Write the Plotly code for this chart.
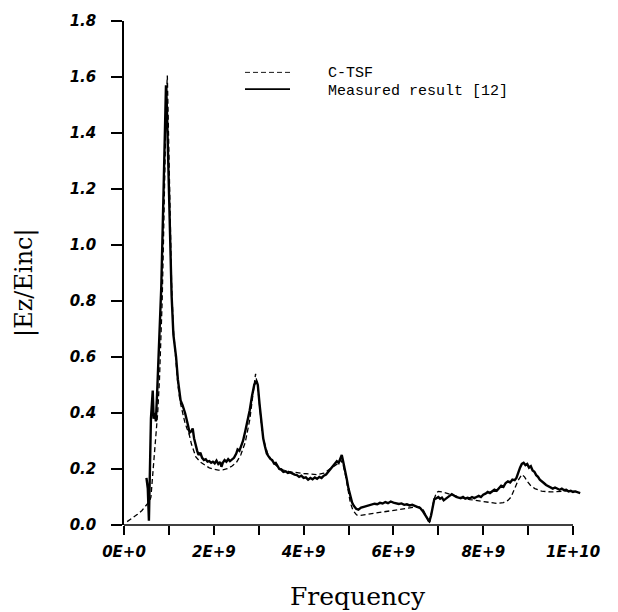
import plotly.graph_objects as go

# ---------------- data (frequency in units of 1E9 Hz) ----------------
series_names = ["C-TSF", "Measured result [12]"]

measured_f = [0.50, 0.53, 0.555, 0.575, 0.60, 0.64, 0.66, 0.69, 0.71, 0.74, 0.77, 0.80, 0.83, 0.86, 0.89,
              0.91, 0.935, 0.95, 0.97, 1.00, 1.03, 1.06, 1.10, 1.16, 1.20, 1.23, 1.26, 1.30, 1.36, 1.42,
              1.46, 1.50, 1.53, 1.56, 1.60, 1.63, 1.66, 1.70, 1.74, 1.78, 1.82, 1.86, 1.90, 1.94, 1.98,
              2.02, 2.06, 2.10, 2.14, 2.17, 2.20, 2.24, 2.28, 2.32, 2.36, 2.40, 2.45, 2.50, 2.53, 2.57,
              2.61, 2.65, 2.70, 2.75, 2.80, 2.85, 2.90, 2.95, 2.98, 3.02, 3.06, 3.10, 3.14, 3.18, 3.22,
              3.26, 3.30, 3.34, 3.38, 3.42, 3.46, 3.50, 3.55, 3.60, 3.65, 3.70, 3.75, 3.80, 3.85, 3.90,
              3.95, 4.00, 4.05, 4.10, 4.15, 4.20, 4.25, 4.30, 4.35, 4.40, 4.45, 4.50, 4.55, 4.60, 4.65,
              4.70, 4.74, 4.78, 4.82, 4.85, 4.88, 4.92, 4.96, 5.00, 5.04, 5.08, 5.12, 5.17, 5.22, 5.28,
              5.34, 5.40, 5.46, 5.52, 5.58, 5.64, 5.70, 5.76, 5.82, 5.88, 5.94, 6.00, 6.06, 6.12, 6.18,
              6.24, 6.30, 6.36, 6.42, 6.48, 6.54, 6.60, 6.66, 6.72, 6.77, 6.80, 6.84, 6.88, 6.91, 6.95,
              7.00, 7.04, 7.08, 7.12, 7.16, 7.20, 7.25, 7.30, 7.35, 7.40, 7.45, 7.50, 7.55, 7.60, 7.65,
              7.70, 7.75, 7.80, 7.85, 7.90, 7.95, 8.00, 8.05, 8.10, 8.15, 8.20, 8.25, 8.30, 8.35, 8.40,
              8.45, 8.50, 8.55, 8.60, 8.65, 8.70, 8.74, 8.78, 8.82, 8.86, 8.90, 8.94, 8.98, 9.02, 9.06,
              9.10, 9.14, 9.18, 9.22, 9.26, 9.30, 9.35, 9.40, 9.45, 9.50, 9.55, 9.60, 9.65, 9.70, 9.75,
              9.80, 9.85, 9.90, 9.95, 10.00, 10.05, 10.10, 10.16]
measured_v = [0.168, 0.13, 0.015, 0.20, 0.38, 0.48, 0.38, 0.40, 0.37, 0.48, 0.60, 0.72, 0.85, 1.05, 1.29,
              1.45, 1.57, 1.52, 1.40, 1.15, 0.95, 0.82, 0.68, 0.60, 0.52, 0.47, 0.445, 0.43, 0.40, 0.36,
              0.33, 0.335, 0.345, 0.31, 0.28, 0.265, 0.25, 0.258, 0.24, 0.232, 0.235, 0.226, 0.228, 0.222, 0.226,
              0.22, 0.23, 0.218, 0.225, 0.208, 0.222, 0.232, 0.226, 0.235, 0.228, 0.232, 0.24, 0.255, 0.27, 0.265,
              0.285, 0.30, 0.335, 0.37, 0.41, 0.46, 0.50, 0.515, 0.50, 0.43, 0.36, 0.31, 0.28, 0.255, 0.245,
              0.236, 0.232, 0.22, 0.222, 0.208, 0.20, 0.198, 0.19, 0.192, 0.186, 0.188, 0.183, 0.18, 0.178, 0.172,
              0.176, 0.168, 0.17, 0.162, 0.168, 0.163, 0.17, 0.165, 0.172, 0.168, 0.176, 0.18, 0.19, 0.20, 0.214,
              0.222, 0.228, 0.222, 0.24, 0.25, 0.228, 0.20, 0.165, 0.13, 0.10, 0.08, 0.068, 0.058, 0.055, 0.062,
              0.065, 0.068, 0.07, 0.072, 0.076, 0.074, 0.079, 0.077, 0.082, 0.078, 0.084, 0.08, 0.078, 0.075, 0.077,
              0.072, 0.074, 0.07, 0.072, 0.068, 0.064, 0.06, 0.048, 0.034, 0.022, 0.012, 0.035, 0.07, 0.092, 0.095,
              0.10, 0.094, 0.098, 0.088, 0.094, 0.10, 0.104, 0.11, 0.104, 0.10, 0.098, 0.096, 0.10, 0.094, 0.097,
              0.095, 0.10, 0.096, 0.10, 0.104, 0.10, 0.108, 0.112, 0.118, 0.114, 0.12, 0.126, 0.122, 0.132, 0.14,
              0.136, 0.15, 0.156, 0.152, 0.162, 0.16, 0.168, 0.19, 0.205, 0.218, 0.222, 0.214, 0.218, 0.205, 0.21,
              0.195, 0.19, 0.178, 0.172, 0.162, 0.155, 0.15, 0.143, 0.138, 0.136, 0.13, 0.134, 0.13, 0.126, 0.13,
              0.124, 0.126, 0.12, 0.122, 0.118, 0.12, 0.116, 0.114]

ctsf_f = [0.07, 0.20, 0.30, 0.40, 0.50, 0.57, 0.60, 0.63, 0.67, 0.71, 0.75, 0.79, 0.82, 0.85, 0.88,
          0.91, 0.94, 0.965, 0.98, 1.00, 1.03, 1.06, 1.10, 1.15, 1.20, 1.25, 1.30, 1.35, 1.40, 1.45,
          1.50, 1.55, 1.60, 1.70, 1.80, 1.90, 2.00, 2.10, 2.20, 2.30, 2.40, 2.50, 2.60, 2.70, 2.80,
          2.87, 2.93, 2.98, 3.03, 3.08, 3.14, 3.20, 3.27, 3.35, 3.45, 3.55, 3.70, 3.85, 4.00, 4.15,
          4.30, 4.45, 4.55, 4.65, 4.75, 4.83, 4.88, 4.93, 4.98, 5.04, 5.10, 5.18, 5.25, 5.40, 5.60,
          5.80, 6.00, 6.20, 6.40, 6.58, 6.66, 6.72, 6.77, 6.80, 6.85, 6.90, 6.96, 7.00, 7.10, 7.20,
          7.35, 7.50, 7.70, 7.90, 8.10, 8.30, 8.45, 8.55, 8.62, 8.70, 8.78, 8.86, 8.92, 8.98, 9.05,
          9.15, 9.30, 9.50, 9.70, 9.90, 10.05, 10.16]
ctsf_v = [0.012, 0.025, 0.038, 0.052, 0.07, 0.085, 0.10, 0.16, 0.24, 0.32, 0.40, 0.52, 0.64, 0.80, 1.02,
          1.30, 1.52, 1.605, 1.50, 1.30, 1.05, 0.86, 0.70, 0.58, 0.50, 0.44, 0.40, 0.37, 0.345, 0.325,
          0.29, 0.262, 0.243, 0.225, 0.213, 0.204, 0.199, 0.196, 0.197, 0.201, 0.21, 0.222, 0.25, 0.295, 0.375,
          0.47, 0.54, 0.49, 0.40, 0.33, 0.285, 0.255, 0.235, 0.218, 0.205, 0.196, 0.19, 0.186, 0.184, 0.182,
          0.18, 0.185, 0.195, 0.205, 0.218, 0.232, 0.215, 0.18, 0.13, 0.08, 0.052, 0.036, 0.034, 0.038, 0.043,
          0.048, 0.053, 0.058, 0.062, 0.065, 0.056, 0.035, 0.018, 0.005, 0.045, 0.09, 0.115, 0.12, 0.118, 0.113,
          0.105, 0.098, 0.091, 0.086, 0.081, 0.077, 0.08, 0.088, 0.10, 0.13, 0.16, 0.18, 0.172, 0.156, 0.142,
          0.13, 0.121, 0.118, 0.12, 0.122, 0.12, 0.117]

x_tick_vals = [0, 1, 2, 3, 4, 5, 6, 7, 8, 9, 10]
x_tick_text = ["0E+0", "", "2E+9", "", "4E+9", "", "6E+9", "", "8E+9", "", "1E+10"]
y_tick_vals = [0.0, 0.2, 0.4, 0.6, 0.8, 1.0, 1.2, 1.4, 1.6, 1.8]

x_title = "Frequency"
y_title = "|Ez/Einc|"

# ---------------- figure ----------------
SCALE = 1e9
styles = [dict(color="black", width=1.3, dash="5px,3px"),
          dict(color="black", width=2.4)]

fig = go.Figure()
fig.add_trace(go.Scatter(x=[f * SCALE for f in ctsf_f], y=ctsf_v, mode="lines",
                         name=series_names[0], line=styles[0], showlegend=False))
fig.add_trace(go.Scatter(x=[f * SCALE for f in measured_f], y=measured_v, mode="lines",
                         name=series_names[1], line=styles[1], showlegend=False))

L, R, T, B = 124, 582, 15, 525
W, H = 618, 612
xmax = 10.2 * SCALE


def px_x(p):
    return (p - L) / (R - L)


def px_y(p):
    return (B - p) / (B - T)


tick_font = dict(family="DejaVu Sans", size=15, color="black", weight="bold", style="italic")

fig.update_layout(
    width=W, height=H, autosize=False,
    margin=dict(l=L, r=W - R, t=T, b=H - B),
    paper_bgcolor="white", plot_bgcolor="white",
    showlegend=False,
    xaxis=dict(range=[0, xmax], tickvals=[v * SCALE for v in x_tick_vals], ticktext=x_tick_text,
               ticks="outside", ticklen=9, tickwidth=1.5, tickcolor="black",
               showline=False, showgrid=False, zeroline=False, tickfont=tick_font,
               ticklabelstandoff=4),
    yaxis=dict(range=[0, 1.8], tickvals=y_tick_vals, tickformat=".1f",
               ticks="outside", ticklen=11, tickwidth=1.5, tickcolor="black",
               showline=True, linecolor="black", linewidth=1.5,
               showgrid=False, zeroline=False, tickfont=tick_font,
               ticklabelstandoff=12),
)

# x-axis line from 0 to 1E+10
fig.add_shape(type="line", xref="paper", yref="paper", x0=0, x1=10 * SCALE / xmax, y0=0, y1=0,
              line=dict(color="black", width=1.5))

# legend drawn by hand
leg_rows = [67, 84]
leg_text_rows = [68, 86]
for i, name in enumerate(series_names):
    fig.add_shape(type="line", xref="paper", yref="paper",
                  x0=px_x(245), x1=px_x(290), y0=px_y(leg_rows[i]), y1=px_y(leg_rows[i]),
                  line=dict(color="black", width=styles[i]["width"] * 0.7, dash=styles[i].get("dash", "solid")))
    fig.add_annotation(xref="paper", yref="paper", x=px_x(326), y=px_y(leg_text_rows[i]),
                       xanchor="left", yanchor="middle", showarrow=False, text=name,
                       font=dict(family="Liberation Mono", size=15, color="black"))

fig.add_annotation(xref="paper", yref="paper", x=px_x(358), y=px_y(597), xanchor="center",
                   yanchor="middle", showarrow=False, text=x_title,
                   font=dict(family="DejaVu Serif", size=25, color="black"))
fig.add_annotation(xref="paper", yref="paper", x=px_x(25), y=px_y(280), xanchor="center",
                   yanchor="middle", showarrow=False, text=y_title, textangle=-90,
                   font=dict(family="DejaVu Serif", size=24, color="black"))

fig.write_html("out.html")
